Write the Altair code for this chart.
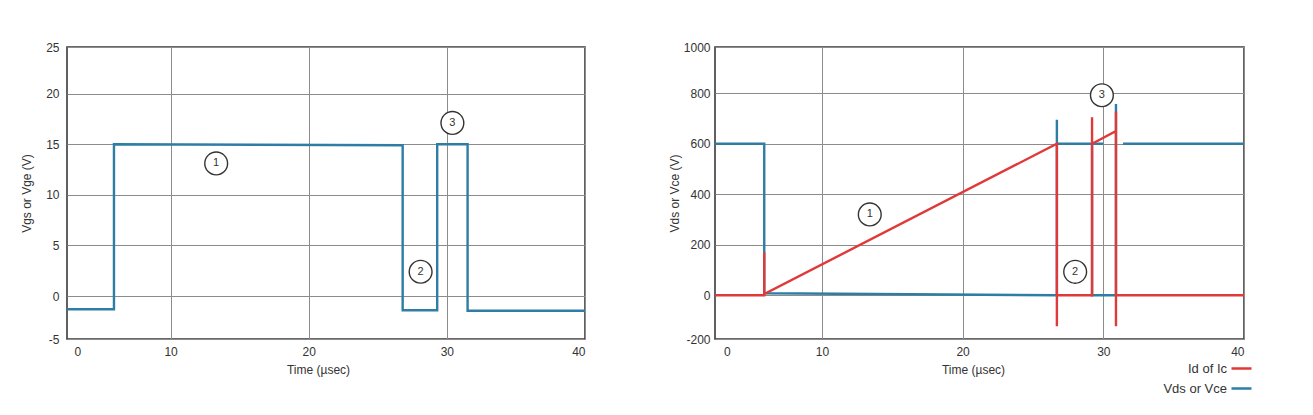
import altair as alt
import pandas as pd

# ---------------- data ----------------
# Left panel: gate voltage (Vgs / Vge)
vg_t = [2.5, 5.9, 5.9, 26.8, 26.8, 29.3, 29.3, 31.5, 31.5, 40.0]
vg_v = [-1.3, -1.3, 15.0, 14.9, -1.4, -1.4, 15.0, 15.0, -1.45, -1.45]

# Right panel: Vds / Vce (blue), drawn as separate segments
vd_seg = ["a", "a", "a", "a", "a", "a", "a", "b", "b", "b", "b", "c", "c"]
vd_t = [2.4, 5.9, 5.9, 26.7, 26.7, 26.7, 30.0, 29.2, 29.2, 30.9, 30.9, 31.4, 40.0]
vd_v = [600, 600, 8, 0, 695, 600, 600, 600, 0, 0, 757, 600, 600]

# Right panel: Id / Ic (red)
id_t = [2.4, 5.9, 5.9, 5.9, 26.7, 26.7, 26.7, 29.2, 29.2, 29.2, 30.9, 30.9, 30.9, 30.9, 40.0]
id_v = [0, 0, 170, 5, 600, -123, 0, 0, 705, 600, 650, 728, -123, 0, 0]

# circled annotations
l_ann_t = [13.3, 28.1, 30.4]
l_ann_v = [13.1, 2.4, 17.1]
r_ann_t = [13.4, 28.0, 29.9]
r_ann_v = [320, 93, 792]
ann_txt = ["1", "2", "3"]

series_names = ["Id of Ic", "Vds or Vce"]
series_colors = ["#E0393A", "#2E7DA5"]

FONT = "Liberation Sans"
W_L, W_R, H = 518, 529, 292

left_df = pd.DataFrame({"t": vg_t, "v": vg_v, "o": range(len(vg_t))})
vd_df = pd.DataFrame({"t": vd_t, "v": vd_v, "seg": vd_seg, "o": range(len(vd_t)),
                      "s": series_names[1]})
id_df = pd.DataFrame({"t": id_t, "v": id_v, "o": range(len(id_t)), "s": series_names[0]})
l_ann = pd.DataFrame({"t": l_ann_t, "v": l_ann_v, "n": ann_txt})
r_ann = pd.DataFrame({"t": r_ann_t, "v": r_ann_v, "n": ann_txt})

grid_op = {"condition": {"test": "datum.value < 5", "value": 0}, "value": 1}


def x_enc(dom, title_x):
    return alt.X("t:Q", scale=alt.Scale(domain=dom, nice=False, zero=False),
                 axis=alt.Axis(values=[3.25, 10, 20, 30, 40],
                               labelExpr="datum.value < 5 ? '0' : datum.label",
                               gridOpacity=grid_op, title="Time (µsec)",
                               titleX=title_x, titlePadding=7, labelPadding=7))


# ---------------- left chart ----------------
ly_dom = [-4.24, 24.6]
ly = alt.Y("v:Q", scale=alt.Scale(domain=ly_dom, nice=False, zero=False),
           axis=alt.Axis(values=[-4.24, 0, 5, 10, 15, 20, 24.6],
                         labelExpr="datum.value < -4 ? '-5' : datum.value > 24 ? '25' : datum.label",
                         title="Vgs or Vge (V)", labelPadding=8, titlePadding=12))

left_line = alt.Chart(left_df).mark_line(color=series_colors[1], strokeWidth=2.4,
                                          strokeJoin="miter").encode(
    x=x_enc([2.5, 40], 251), y=ly, order="o:Q")

left_circ = alt.Chart(l_ann).mark_point(shape="circle", size=520, filled=True,
                                         fill="white", stroke="#333", strokeWidth=1.4,
                                         opacity=1).encode(x="t:Q", y="v:Q")
left_txt = alt.Chart(l_ann).mark_text(font=FONT, fontSize=11, color="#333").encode(
    x="t:Q", y="v:Q", text="n:N")

left = alt.layer(left_line, left_circ, left_txt).properties(width=W_L, height=H)

# ---------------- right chart ----------------
ry_dom = [-173, 983]
ry = alt.Y("v:Q", scale=alt.Scale(domain=ry_dom, nice=False, zero=False),
           axis=alt.Axis(values=[-173, 0, 200, 400, 600, 800, 983],
                         labelExpr="datum.value < -150 ? '-200' : datum.value > 950 ? '1000' : datum.label",
                         title="Vds or Vce (V)", labelPadding=5, titlePadding=2))

color = alt.Color("s:N", scale=alt.Scale(domain=series_names, range=series_colors),
                  legend=alt.Legend(title=None, orient="none", legendX=1163, legendY=310,
                                    symbolType="stroke", symbolSize=400,
                                    symbolStrokeWidth=2.5, labelAlign="right",
                                    labelOffset={"expr": "-26"}, rowPadding=1, padding=0,
                                    labelFont=FONT, labelFontSize=13, labelColor="#333"))

blue_line = alt.Chart(vd_df).mark_line(strokeWidth=2.4, strokeJoin="miter").encode(
    x=x_enc([2.4, 40], 258), y=ry, color=color, detail="seg:N", order="o:Q")
red_line = alt.Chart(id_df).mark_line(strokeWidth=2.4, strokeJoin="miter").encode(
    x="t:Q", y="v:Q", color=color, order="o:Q")

right_circ = alt.Chart(r_ann).mark_point(shape="circle", size=520, filled=True,
                                          fill="white", stroke="#333", strokeWidth=1.4,
                                          opacity=1).encode(x="t:Q", y="v:Q")
right_txt = alt.Chart(r_ann).mark_text(font=FONT, fontSize=11, color="#333").encode(
    x="t:Q", y="v:Q", text="n:N")

right = alt.layer(blue_line, red_line, right_circ, right_txt).properties(width=W_R, height=H)

chart = alt.hconcat(left, right, spacing=76).properties(
    padding={"left": 11, "top": 32, "right": 5, "bottom": 5},
    background="white"
).configure_view(stroke="#3a3a3a", strokeWidth=1.6).configure_axis(
    domain=False, ticks=False, grid=True, gridColor="#8c8c8c", gridWidth=1,
    labelFont=FONT, labelFontSize=12, labelColor="#333",
    titleFont=FONT, titleFontSize=12, titleFontWeight="normal", titleColor="#333"
)

chart.save("out.html", embed_options={"renderer": "svg", "actions": False})
